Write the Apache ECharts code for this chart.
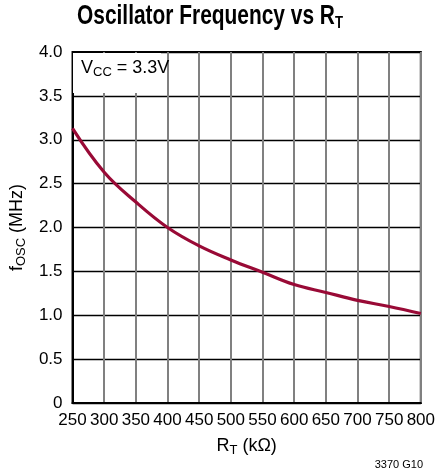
<!DOCTYPE html>
<html>
<head>
<meta charset="utf-8">
<script src="https://cdn.jsdelivr.net/npm/echarts@6/dist/echarts.min.js"></script>
<style>
html,body{margin:0;padding:0;background:#fff;}
#chart{width:438px;height:474px;}
</style>
</head>
<body>
<div id="chart"></div>
<script>
const rtValues = [250, 300, 350, 400, 450, 500, 550, 600, 650, 700, 750, 800];
const foscValues = [3.13, 2.63, 2.29, 2.00, 1.79, 1.63, 1.49, 1.35, 1.26, 1.17, 1.10, 1.02];
const xTicks = [250, 300, 350, 400, 450, 500, 550, 600, 650, 700, 750, 800];
const yTicks = [0, 0.5, 1.0, 1.5, 2.0, 2.5, 3.0, 3.5, 4.0];

const FONT = '"Liberation Sans", Arial, sans-serif';
const chart = echarts.init(document.getElementById('chart'));
const seriesData = rtValues.map((x, i) => [x, foscValues[i]]);

// measure title to condense it horizontally
const cv = document.createElement('canvas').getContext('2d');
cv.font = 'bold 27px "Liberation Sans"';
const wMain = cv.measureText('Oscillator Frequency vs R').width;
cv.font = 'bold 17px "Liberation Sans"';
const wSub = cv.measureText('T').width;
const titleScale = 266 / (wMain + wSub);

const subRich = (size, sub) => ({
  m: {fontFamily: FONT, fontSize: size, color: '#000', lineHeight: size + 4},
  s: {fontFamily: FONT, fontSize: sub, color: '#000', lineHeight: sub, verticalAlign: 'bottom'}
});

chart.setOption({
  backgroundColor: '#fff',
  animation: false,
  grid: {left: 72, right: 14, top: 52, bottom: 71, show: true, borderColor: '#000', borderWidth: 2, backgroundColor: 'transparent'},
  xAxis: {
    type: 'value',
    min: xTicks[0],
    max: xTicks[xTicks.length - 1],
    interval: 50,
    axisLine: {show: true, lineStyle: {color: '#000', width: 2}},
    axisTick: {show: false},
    splitLine: {show: true, lineStyle: {color: '#808080', width: 2}},
    axisLabel: {fontFamily: FONT, fontSize: 17, color: '#000', margin: 9, showMinLabel: true, showMaxLabel: true, hideOverlap: false},
    name: '{m|R}{s|T}{m| (kΩ)}',
    nameLocation: 'middle',
    nameGap: 32,
    nameTextStyle: {rich: subRich(18, 13)}
  },
  yAxis: {
    type: 'value',
    min: yTicks[0],
    max: yTicks[yTicks.length - 1],
    interval: 0.5,
    axisLine: {show: true, lineStyle: {color: '#000', width: 2}},
    axisTick: {show: false},
    splitLine: {show: true, lineStyle: {color: '#000', width: 1.3}},
    axisLabel: {fontFamily: FONT, fontSize: 17, color: '#000', margin: 10, showMinLabel: true, showMaxLabel: true,
      formatter: v => v === 0 ? '0' : v.toFixed(1)},
    name: '{m|f}{s|OSC}{m| (MHz)}',
    nameLocation: 'middle',
    nameGap: 40,
    nameTextStyle: {rich: subRich(18, 13)}
  },
  graphic: [
    {type: 'text', left: 77, top: 3, z: 11, scaleX: titleScale, originX: 0,
      style: {
        text: '{m|Oscillator Frequency vs R}{s|T}',
        rich: {
          m: {fontFamily: FONT, fontWeight: 'bold', fontSize: 27, fill: '#000', lineHeight: 30},
          s: {fontFamily: FONT, fontWeight: 'bold', fontSize: 17, fill: '#000', lineHeight: 17, verticalAlign: 'bottom'}
        }
      }
    },
    {type: 'rect', left: 73, top: 53, shape: {width: 88, height: 40}, style: {fill: '#fff'}, z: 10},
    {type: 'text', left: 81, top: 59, z: 11,
      style: {
        text: '{m|V}{s|CC}{m| = 3.3V}',
        rich: {
          m: {fontFamily: FONT, fontSize: 18, fill: '#000', lineHeight: 21},
          s: {fontFamily: FONT, fontSize: 13, fill: '#000', lineHeight: 13, verticalAlign: 'bottom'}
        }
      }
    },
    {type: 'text', right: 15, top: 459, z: 11,
      style: {text: '3370 G10', fontFamily: FONT, fontSize: 11, fill: '#000'}}
  ],
  series: [{
    type: 'line',
    data: seriesData,
    smooth: 0.4,
    showSymbol: false,
    lineStyle: {color: '#990a36', width: 3.2},
    z: 5
  }]
});
</script>
</body>
</html>
